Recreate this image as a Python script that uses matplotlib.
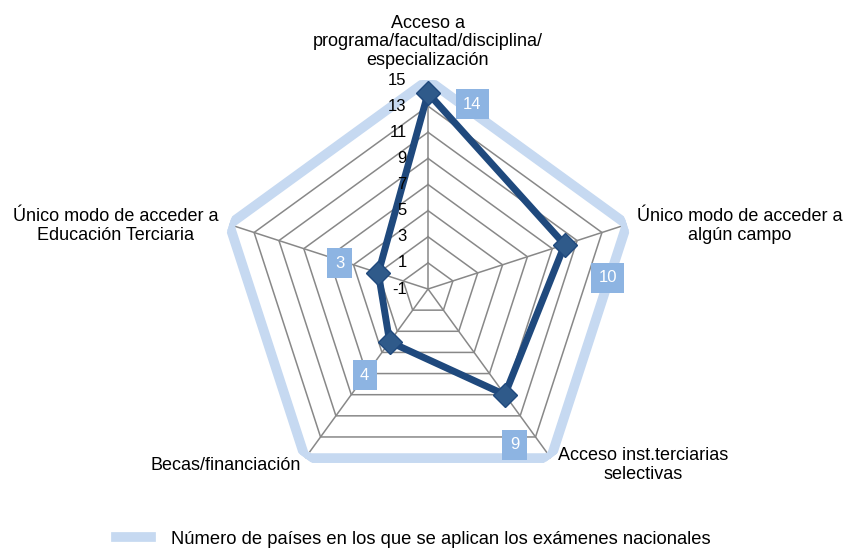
import numpy as np
import matplotlib.pyplot as plt

plt.rcParams['font.family'] = ['Liberation Sans', 'DejaVu Sans']

categorias = ["Acceso a\nprograma/facultad/disciplina/\nespecialización",
              "Único modo de acceder a\nalgún campo",
              "Acceso inst.terciarias\nselectivas",
              "Becas/financiación",
              "Único modo de acceder a\nEducación Terciaria"]
valores = [14, 10, 9, 4, 3]
ticks = [-1, 1, 3, 5, 7, 9, 11, 13, 15]
leyenda = "Número de países en los que se aplican los exámenes nacionales"

azul_osc = "#1F497D"
azul_claro = "#C6D9F1"
azul_etq = "#8DB4E2"
gris = "#888888"

n = len(categorias)
angulos = np.linspace(0, 2 * np.pi, n, endpoint=False)
ang_c = np.append(angulos, angulos[0])

fig = plt.figure(figsize=(8.45, 5.48), dpi=100)
ax = fig.add_axes([0.2592, 0.0912, 0.4947, 0.7628], projection='polar')
ax.set_theta_offset(np.pi / 2)
ax.set_theta_direction(-1)
ax.set_ylim(ticks[0], ticks[-1])
ax.grid(False)
ax.set_xticks([])
ax.set_yticks([])
ax.spines['polar'].set_visible(False)
ax.patch.set_visible(False)

# rejilla pentagonal
for t in ticks[1:-1]:
    ax.plot(ang_c, [t] * (n + 1), color=gris, lw=1.1, zorder=1)
for a in angulos:
    ax.plot([a, a], [ticks[0], ticks[-1]], color=gris, lw=1.1, zorder=1)

# contorno exterior
ax.plot(ang_c, [ticks[-1]] * (n + 1), color=azul_claro, lw=7, zorder=2,
        marker='s', ms=7.5, solid_joinstyle='miter', label=leyenda)

# serie
ax.plot(ang_c, valores + valores[:1], color=azul_osc, lw=5, zorder=3,
        solid_joinstyle='round')
ax.plot(angulos, valores, ls='none', marker='D', ms=12, mfc="#2F5A8A",
        mec=azul_osc, mew=1, zorder=4)

# etiquetas del eje
for t in ticks:
    ax.annotate(str(t), xy=(0, t), xytext=(-15.5, 0), textcoords='offset points',
                ha='right', va='center', fontsize=12, zorder=5)

# etiquetas de datos
desplaz = [(32, -8), (31, -24), (7, -36), (-18, -24), (-28, 7)]
for a, v, d in zip(angulos, valores, desplaz):
    ax.annotate(str(v), xy=(a, v), xytext=d, textcoords='offset points',
                ha='center', va='center', color='white', fontsize=12, zorder=6,
                bbox=dict(boxstyle='square,pad=0.45', fc=azul_etq, ec='none'))

# categorías
pos_cat = [(428, 42, 'center'), (740, 226, 'center'), (643, 465, 'center'),
           (226, 465, 'center'), (116, 226, 'center')]
for txt, (px, py, ha) in zip(categorias, pos_cat):
    fig.text(px / 845, 1 - py / 548, txt, ha=ha, va='center',
             multialignment='center', fontsize=13, linespacing=1.15)

fig.legend(loc='center left', bbox_to_anchor=(116 / 845, 1 - 539 / 548),
           frameon=False, fontsize=13.2, handlelength=1.9, handletextpad=1.1,
           borderpad=0, borderaxespad=0)
for h in fig.legends[0].legend_handles:
    h.set_marker('')
    h.set_linewidth(7)

fig.savefig("out.png", dpi=100)
